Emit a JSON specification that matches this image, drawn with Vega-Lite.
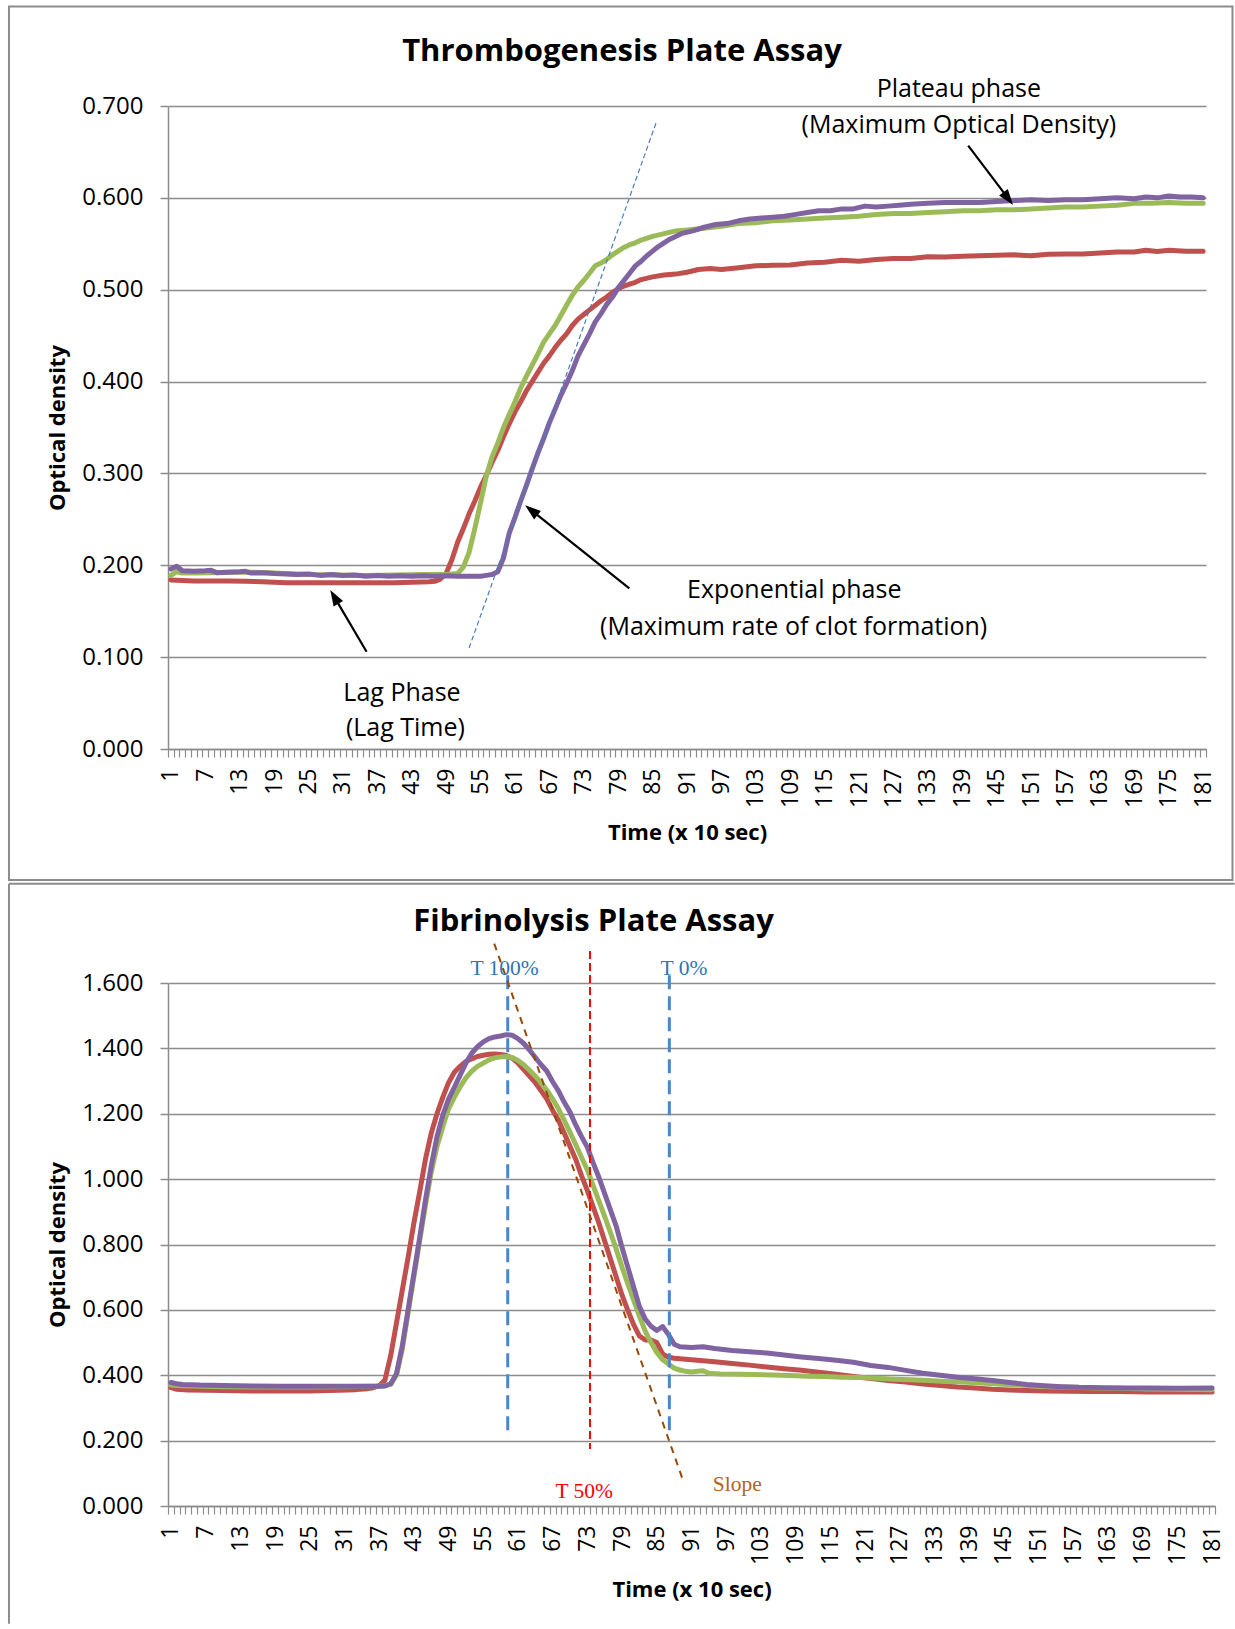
{
"$schema": "https://vega.github.io/schema/vega-lite/v6.json",
"background": "white",
"padding": {"left": 7, "top": 5, "right": 0, "bottom": 0},
"bounds": "flush",
"spacing": 234,
"config": {"font": "Open Sans", "view": {"stroke": null}, "axis": {"labelColor": "black", "titleColor": "black", "labelFont": "Open Sans", "titleFont": "Open Sans"}},
"datasets": {
"thrombo": [
{"s":"S2","t":1,"v":0.184},{"s":"S2","t":3,"v":0.1835},{"s":"S2","t":5,"v":0.183},{"s":"S2","t":8,"v":0.183},{"s":"S2","t":11,"v":0.183},{"s":"S2","t":14,"v":0.1826},{"s":"S2","t":17,"v":0.182},{"s":"S2","t":19,"v":0.1815},{"s":"S2","t":21,"v":0.181},{"s":"S2","t":25,"v":0.181},{"s":"S2","t":29,"v":0.181},{"s":"S2","t":33,"v":0.181},{"s":"S2","t":37,"v":0.181},{"s":"S2","t":40,"v":0.181},{"s":"S2","t":43,"v":0.1815},{"s":"S2","t":46,"v":0.182},{"s":"S2","t":47,"v":0.1825},{"s":"S2","t":48,"v":0.185},{"s":"S2","t":49,"v":0.191},{"s":"S2","t":50,"v":0.206},{"s":"S2","t":51,"v":0.225},{"s":"S2","t":52,"v":0.24},{"s":"S2","t":53,"v":0.256},{"s":"S2","t":54,"v":0.27},{"s":"S2","t":55,"v":0.285},{"s":"S2","t":56,"v":0.298},{"s":"S2","t":57,"v":0.312},{"s":"S2","t":58,"v":0.325},{"s":"S2","t":59,"v":0.34},{"s":"S2","t":60,"v":0.354},{"s":"S2","t":61,"v":0.367},{"s":"S2","t":62,"v":0.378},{"s":"S2","t":63,"v":0.39},{"s":"S2","t":64,"v":0.4},{"s":"S2","t":65,"v":0.41},{"s":"S2","t":66,"v":0.42},{"s":"S2","t":67,"v":0.428},{"s":"S2","t":68,"v":0.437},{"s":"S2","t":69,"v":0.445},{"s":"S2","t":70,"v":0.452},{"s":"S2","t":71,"v":0.461},{"s":"S2","t":72,"v":0.468},{"s":"S2","t":73,"v":0.473},{"s":"S2","t":74,"v":0.478},{"s":"S2","t":75,"v":0.483},{"s":"S2","t":76,"v":0.488},{"s":"S2","t":77,"v":0.492},{"s":"S2","t":78,"v":0.497},{"s":"S2","t":79,"v":0.501},{"s":"S2","t":80,"v":0.504},{"s":"S2","t":81,"v":0.506},{"s":"S2","t":82,"v":0.508},{"s":"S2","t":83,"v":0.511},{"s":"S2","t":85,"v":0.514},{"s":"S2","t":87,"v":0.516},{"s":"S2","t":89,"v":0.517},{"s":"S2","t":91,"v":0.519},{"s":"S2","t":93,"v":0.522},{"s":"S2","t":95,"v":0.523},{"s":"S2","t":97,"v":0.522},{"s":"S2","t":100,"v":0.524},{"s":"S2","t":103,"v":0.526},{"s":"S2","t":106,"v":0.5265},{"s":"S2","t":109,"v":0.527},{"s":"S2","t":112,"v":0.529},{"s":"S2","t":115,"v":0.53},{"s":"S2","t":118,"v":0.532},{"s":"S2","t":121,"v":0.531},{"s":"S2","t":124,"v":0.533},{"s":"S2","t":127,"v":0.534},{"s":"S2","t":130,"v":0.534},{"s":"S2","t":133,"v":0.536},{"s":"S2","t":136,"v":0.5355},{"s":"S2","t":139,"v":0.5365},{"s":"S2","t":142,"v":0.537},{"s":"S2","t":145,"v":0.5375},{"s":"S2","t":148,"v":0.538},{"s":"S2","t":151,"v":0.537},{"s":"S2","t":154,"v":0.5385},{"s":"S2","t":157,"v":0.539},{"s":"S2","t":160,"v":0.539},{"s":"S2","t":163,"v":0.54},{"s":"S2","t":166,"v":0.541},{"s":"S2","t":169,"v":0.541},{"s":"S2","t":171,"v":0.543},{"s":"S2","t":173,"v":0.5415},{"s":"S2","t":175,"v":0.543},{"s":"S2","t":178,"v":0.542},{"s":"S2","t":181,"v":0.542},
{"s":"S3","t":1,"v":0.189},{"s":"S3","t":2,"v":0.193},{"s":"S3","t":3,"v":0.1915},{"s":"S3","t":5,"v":0.1915},{"s":"S3","t":8,"v":0.192},{"s":"S3","t":11,"v":0.1925},{"s":"S3","t":15,"v":0.1925},{"s":"S3","t":18,"v":0.192},{"s":"S3","t":21,"v":0.191},{"s":"S3","t":25,"v":0.19},{"s":"S3","t":30,"v":0.1895},{"s":"S3","t":35,"v":0.189},{"s":"S3","t":40,"v":0.1895},{"s":"S3","t":45,"v":0.19},{"s":"S3","t":49,"v":0.19},{"s":"S3","t":51,"v":0.191},{"s":"S3","t":52,"v":0.198},{"s":"S3","t":53,"v":0.214},{"s":"S3","t":54,"v":0.24},{"s":"S3","t":55,"v":0.268},{"s":"S3","t":56,"v":0.297},{"s":"S3","t":57,"v":0.318},{"s":"S3","t":58,"v":0.333},{"s":"S3","t":59,"v":0.35},{"s":"S3","t":60,"v":0.364},{"s":"S3","t":61,"v":0.378},{"s":"S3","t":62,"v":0.393},{"s":"S3","t":63,"v":0.406},{"s":"S3","t":64,"v":0.418},{"s":"S3","t":65,"v":0.43},{"s":"S3","t":66,"v":0.443},{"s":"S3","t":67,"v":0.452},{"s":"S3","t":68,"v":0.461},{"s":"S3","t":69,"v":0.472},{"s":"S3","t":70,"v":0.483},{"s":"S3","t":71,"v":0.494},{"s":"S3","t":72,"v":0.503},{"s":"S3","t":73,"v":0.51},{"s":"S3","t":74,"v":0.518},{"s":"S3","t":75,"v":0.526},{"s":"S3","t":76,"v":0.529},{"s":"S3","t":77,"v":0.533},{"s":"S3","t":78,"v":0.538},{"s":"S3","t":79,"v":0.542},{"s":"S3","t":80,"v":0.546},{"s":"S3","t":81,"v":0.549},{"s":"S3","t":82,"v":0.551},{"s":"S3","t":83,"v":0.554},{"s":"S3","t":85,"v":0.558},{"s":"S3","t":87,"v":0.561},{"s":"S3","t":89,"v":0.564},{"s":"S3","t":91,"v":0.565},{"s":"S3","t":94,"v":0.567},{"s":"S3","t":97,"v":0.569},{"s":"S3","t":100,"v":0.572},{"s":"S3","t":103,"v":0.573},{"s":"S3","t":106,"v":0.575},{"s":"S3","t":109,"v":0.576},{"s":"S3","t":112,"v":0.577},{"s":"S3","t":115,"v":0.578},{"s":"S3","t":118,"v":0.579},{"s":"S3","t":121,"v":0.58},{"s":"S3","t":124,"v":0.582},{"s":"S3","t":127,"v":0.583},{"s":"S3","t":130,"v":0.583},{"s":"S3","t":133,"v":0.584},{"s":"S3","t":136,"v":0.585},{"s":"S3","t":139,"v":0.586},{"s":"S3","t":142,"v":0.586},{"s":"S3","t":145,"v":0.587},{"s":"S3","t":148,"v":0.587},{"s":"S3","t":151,"v":0.588},{"s":"S3","t":154,"v":0.589},{"s":"S3","t":157,"v":0.59},{"s":"S3","t":160,"v":0.59},{"s":"S3","t":163,"v":0.591},{"s":"S3","t":166,"v":0.592},{"s":"S3","t":169,"v":0.594},{"s":"S3","t":172,"v":0.594},{"s":"S3","t":175,"v":0.595},{"s":"S3","t":178,"v":0.594},{"s":"S3","t":181,"v":0.594},
{"s":"S4","t":1,"v":0.196},{"s":"S4","t":2,"v":0.199},{"s":"S4","t":3,"v":0.194},{"s":"S4","t":5,"v":0.1935},{"s":"S4","t":7,"v":0.194},{"s":"S4","t":8,"v":0.1945},{"s":"S4","t":9,"v":0.192},{"s":"S4","t":11,"v":0.1925},{"s":"S4","t":13,"v":0.193},{"s":"S4","t":14,"v":0.1935},{"s":"S4","t":15,"v":0.1915},{"s":"S4","t":17,"v":0.192},{"s":"S4","t":19,"v":0.191},{"s":"S4","t":21,"v":0.1905},{"s":"S4","t":23,"v":0.19},{"s":"S4","t":25,"v":0.1905},{"s":"S4","t":27,"v":0.189},{"s":"S4","t":29,"v":0.19},{"s":"S4","t":31,"v":0.189},{"s":"S4","t":33,"v":0.1895},{"s":"S4","t":35,"v":0.188},{"s":"S4","t":37,"v":0.189},{"s":"S4","t":39,"v":0.188},{"s":"S4","t":41,"v":0.1885},{"s":"S4","t":43,"v":0.188},{"s":"S4","t":45,"v":0.1885},{"s":"S4","t":47,"v":0.188},{"s":"S4","t":49,"v":0.1885},{"s":"S4","t":51,"v":0.188},{"s":"S4","t":53,"v":0.188},{"s":"S4","t":55,"v":0.188},{"s":"S4","t":56,"v":0.189},{"s":"S4","t":57,"v":0.19},{"s":"S4","t":58,"v":0.193},{"s":"S4","t":59,"v":0.208},{"s":"S4","t":60,"v":0.235},{"s":"S4","t":61,"v":0.252},{"s":"S4","t":62,"v":0.27},{"s":"S4","t":63,"v":0.287},{"s":"S4","t":64,"v":0.305},{"s":"S4","t":65,"v":0.322},{"s":"S4","t":66,"v":0.338},{"s":"S4","t":67,"v":0.355},{"s":"S4","t":68,"v":0.37},{"s":"S4","t":69,"v":0.385},{"s":"S4","t":70,"v":0.398},{"s":"S4","t":71,"v":0.412},{"s":"S4","t":72,"v":0.428},{"s":"S4","t":73,"v":0.44},{"s":"S4","t":74,"v":0.452},{"s":"S4","t":75,"v":0.465},{"s":"S4","t":76,"v":0.474},{"s":"S4","t":77,"v":0.484},{"s":"S4","t":78,"v":0.492},{"s":"S4","t":79,"v":0.502},{"s":"S4","t":80,"v":0.51},{"s":"S4","t":81,"v":0.518},{"s":"S4","t":82,"v":0.526},{"s":"S4","t":83,"v":0.531},{"s":"S4","t":84,"v":0.537},{"s":"S4","t":85,"v":0.542},{"s":"S4","t":86,"v":0.547},{"s":"S4","t":87,"v":0.551},{"s":"S4","t":88,"v":0.555},{"s":"S4","t":89,"v":0.558},{"s":"S4","t":90,"v":0.561},{"s":"S4","t":92,"v":0.564},{"s":"S4","t":94,"v":0.568},{"s":"S4","t":96,"v":0.571},{"s":"S4","t":98,"v":0.572},{"s":"S4","t":100,"v":0.575},{"s":"S4","t":102,"v":0.577},{"s":"S4","t":104,"v":0.578},{"s":"S4","t":106,"v":0.579},{"s":"S4","t":108,"v":0.58},{"s":"S4","t":110,"v":0.582},{"s":"S4","t":112,"v":0.584},{"s":"S4","t":114,"v":0.586},{"s":"S4","t":116,"v":0.586},{"s":"S4","t":118,"v":0.588},{"s":"S4","t":120,"v":0.588},{"s":"S4","t":122,"v":0.591},{"s":"S4","t":124,"v":0.59},{"s":"S4","t":126,"v":0.591},{"s":"S4","t":128,"v":0.592},{"s":"S4","t":130,"v":0.593},{"s":"S4","t":133,"v":0.594},{"s":"S4","t":136,"v":0.595},{"s":"S4","t":139,"v":0.595},{"s":"S4","t":142,"v":0.595},{"s":"S4","t":145,"v":0.596},{"s":"S4","t":148,"v":0.597},{"s":"S4","t":151,"v":0.598},{"s":"S4","t":154,"v":0.597},{"s":"S4","t":157,"v":0.598},{"s":"S4","t":160,"v":0.598},{"s":"S4","t":163,"v":0.599},{"s":"S4","t":166,"v":0.6},{"s":"S4","t":169,"v":0.599},{"s":"S4","t":171,"v":0.601},{"s":"S4","t":173,"v":0.6},{"s":"S4","t":175,"v":0.602},{"s":"S4","t":177,"v":0.601},{"s":"S4","t":179,"v":0.601},{"s":"S4","t":181,"v":0.6}
],
"fibrino": [
{"s":"S2","t":1,"v":0.362},{"s":"S2","t":2,"v":0.357},{"s":"S2","t":4,"v":0.355},{"s":"S2","t":7,"v":0.354},{"s":"S2","t":10,"v":0.353},{"s":"S2","t":15,"v":0.352},{"s":"S2","t":20,"v":0.352},{"s":"S2","t":25,"v":0.352},{"s":"S2","t":30,"v":0.354},{"s":"S2","t":33,"v":0.356},{"s":"S2","t":35,"v":0.359},{"s":"S2","t":36,"v":0.362},{"s":"S2","t":37,"v":0.368},{"s":"S2","t":38,"v":0.385},{"s":"S2","t":39,"v":0.46},{"s":"S2","t":40,"v":0.56},{"s":"S2","t":41,"v":0.66},{"s":"S2","t":42,"v":0.76},{"s":"S2","t":43,"v":0.865},{"s":"S2","t":44,"v":0.96},{"s":"S2","t":45,"v":1.06},{"s":"S2","t":46,"v":1.14},{"s":"S2","t":47,"v":1.2},{"s":"S2","t":48,"v":1.25},{"s":"S2","t":49,"v":1.295},{"s":"S2","t":50,"v":1.327},{"s":"S2","t":51,"v":1.345},{"s":"S2","t":52,"v":1.36},{"s":"S2","t":53,"v":1.368},{"s":"S2","t":54,"v":1.375},{"s":"S2","t":55,"v":1.379},{"s":"S2","t":56,"v":1.382},{"s":"S2","t":57,"v":1.383},{"s":"S2","t":58,"v":1.381},{"s":"S2","t":59,"v":1.378},{"s":"S2","t":60,"v":1.37},{"s":"S2","t":61,"v":1.355},{"s":"S2","t":62,"v":1.335},{"s":"S2","t":63,"v":1.315},{"s":"S2","t":64,"v":1.295},{"s":"S2","t":65,"v":1.27},{"s":"S2","t":66,"v":1.245},{"s":"S2","t":67,"v":1.21},{"s":"S2","t":68,"v":1.18},{"s":"S2","t":69,"v":1.14},{"s":"S2","t":70,"v":1.1},{"s":"S2","t":71,"v":1.06},{"s":"S2","t":72,"v":1.01},{"s":"S2","t":73,"v":0.965},{"s":"S2","t":74,"v":0.915},{"s":"S2","t":75,"v":0.865},{"s":"S2","t":76,"v":0.81},{"s":"S2","t":77,"v":0.755},{"s":"S2","t":78,"v":0.7},{"s":"S2","t":79,"v":0.645},{"s":"S2","t":80,"v":0.598},{"s":"S2","t":81,"v":0.555},{"s":"S2","t":82,"v":0.52},{"s":"S2","t":83,"v":0.508},{"s":"S2","t":84,"v":0.508},{"s":"S2","t":85,"v":0.5},{"s":"S2","t":86,"v":0.465},{"s":"S2","t":87,"v":0.455},{"s":"S2","t":88,"v":0.452},{"s":"S2","t":90,"v":0.449},{"s":"S2","t":92,"v":0.446},{"s":"S2","t":95,"v":0.441},{"s":"S2","t":98,"v":0.436},{"s":"S2","t":101,"v":0.431},{"s":"S2","t":104,"v":0.425},{"s":"S2","t":107,"v":0.42},{"s":"S2","t":110,"v":0.415},{"s":"S2","t":113,"v":0.409},{"s":"S2","t":116,"v":0.403},{"s":"S2","t":119,"v":0.396},{"s":"S2","t":122,"v":0.39},{"s":"S2","t":125,"v":0.384},{"s":"S2","t":128,"v":0.379},{"s":"S2","t":131,"v":0.373},{"s":"S2","t":134,"v":0.369},{"s":"S2","t":137,"v":0.364},{"s":"S2","t":140,"v":0.361},{"s":"S2","t":143,"v":0.357},{"s":"S2","t":146,"v":0.355},{"s":"S2","t":149,"v":0.353},{"s":"S2","t":152,"v":0.352},{"s":"S2","t":156,"v":0.351},{"s":"S2","t":160,"v":0.35},{"s":"S2","t":165,"v":0.35},{"s":"S2","t":170,"v":0.349},{"s":"S2","t":175,"v":0.349},{"s":"S2","t":181,"v":0.349},
{"s":"S3","t":1,"v":0.37},{"s":"S3","t":3,"v":0.368},{"s":"S3","t":5,"v":0.367},{"s":"S3","t":10,"v":0.365},{"s":"S3","t":15,"v":0.364},{"s":"S3","t":20,"v":0.364},{"s":"S3","t":25,"v":0.364},{"s":"S3","t":30,"v":0.365},{"s":"S3","t":35,"v":0.366},{"s":"S3","t":37,"v":0.367},{"s":"S3","t":38,"v":0.368},{"s":"S3","t":39,"v":0.372},{"s":"S3","t":40,"v":0.4},{"s":"S3","t":41,"v":0.48},{"s":"S3","t":42,"v":0.59},{"s":"S3","t":43,"v":0.7},{"s":"S3","t":44,"v":0.81},{"s":"S3","t":45,"v":0.92},{"s":"S3","t":46,"v":1.02},{"s":"S3","t":47,"v":1.1},{"s":"S3","t":48,"v":1.16},{"s":"S3","t":49,"v":1.215},{"s":"S3","t":50,"v":1.25},{"s":"S3","t":51,"v":1.282},{"s":"S3","t":52,"v":1.31},{"s":"S3","t":53,"v":1.33},{"s":"S3","t":54,"v":1.345},{"s":"S3","t":55,"v":1.355},{"s":"S3","t":56,"v":1.365},{"s":"S3","t":57,"v":1.371},{"s":"S3","t":58,"v":1.374},{"s":"S3","t":59,"v":1.375},{"s":"S3","t":60,"v":1.372},{"s":"S3","t":61,"v":1.363},{"s":"S3","t":62,"v":1.35},{"s":"S3","t":63,"v":1.333},{"s":"S3","t":64,"v":1.315},{"s":"S3","t":65,"v":1.295},{"s":"S3","t":66,"v":1.272},{"s":"S3","t":67,"v":1.245},{"s":"S3","t":68,"v":1.215},{"s":"S3","t":69,"v":1.18},{"s":"S3","t":70,"v":1.143},{"s":"S3","t":71,"v":1.105},{"s":"S3","t":72,"v":1.066},{"s":"S3","t":73,"v":1.028},{"s":"S3","t":74,"v":0.98},{"s":"S3","t":75,"v":0.933},{"s":"S3","t":76,"v":0.885},{"s":"S3","t":77,"v":0.836},{"s":"S3","t":78,"v":0.785},{"s":"S3","t":79,"v":0.73},{"s":"S3","t":80,"v":0.679},{"s":"S3","t":81,"v":0.63},{"s":"S3","t":82,"v":0.58},{"s":"S3","t":83,"v":0.535},{"s":"S3","t":84,"v":0.5},{"s":"S3","t":85,"v":0.47},{"s":"S3","t":86,"v":0.448},{"s":"S3","t":87,"v":0.434},{"s":"S3","t":88,"v":0.422},{"s":"S3","t":89,"v":0.416},{"s":"S3","t":90,"v":0.412},{"s":"S3","t":91,"v":0.41},{"s":"S3","t":92,"v":0.412},{"s":"S3","t":93,"v":0.414},{"s":"S3","t":94,"v":0.406},{"s":"S3","t":96,"v":0.404},{"s":"S3","t":99,"v":0.403},{"s":"S3","t":102,"v":0.402},{"s":"S3","t":105,"v":0.401},{"s":"S3","t":108,"v":0.399},{"s":"S3","t":111,"v":0.397},{"s":"S3","t":114,"v":0.396},{"s":"S3","t":117,"v":0.394},{"s":"S3","t":120,"v":0.393},{"s":"S3","t":123,"v":0.391},{"s":"S3","t":126,"v":0.388},{"s":"S3","t":129,"v":0.386},{"s":"S3","t":132,"v":0.384},{"s":"S3","t":135,"v":0.381},{"s":"S3","t":138,"v":0.379},{"s":"S3","t":141,"v":0.376},{"s":"S3","t":144,"v":0.373},{"s":"S3","t":147,"v":0.37},{"s":"S3","t":150,"v":0.368},{"s":"S3","t":153,"v":0.365},{"s":"S3","t":157,"v":0.363},{"s":"S3","t":161,"v":0.361},{"s":"S3","t":165,"v":0.36},{"s":"S3","t":170,"v":0.358},{"s":"S3","t":175,"v":0.357},{"s":"S3","t":181,"v":0.356},
{"s":"S4","t":1,"v":0.378},{"s":"S4","t":2,"v":0.374},{"s":"S4","t":3,"v":0.372},{"s":"S4","t":6,"v":0.37},{"s":"S4","t":10,"v":0.369},{"s":"S4","t":15,"v":0.367},{"s":"S4","t":20,"v":0.366},{"s":"S4","t":25,"v":0.366},{"s":"S4","t":30,"v":0.366},{"s":"S4","t":35,"v":0.366},{"s":"S4","t":37,"v":0.366},{"s":"S4","t":38,"v":0.367},{"s":"S4","t":39,"v":0.374},{"s":"S4","t":40,"v":0.405},{"s":"S4","t":41,"v":0.49},{"s":"S4","t":42,"v":0.6},{"s":"S4","t":43,"v":0.71},{"s":"S4","t":44,"v":0.82},{"s":"S4","t":45,"v":0.935},{"s":"S4","t":46,"v":1.04},{"s":"S4","t":47,"v":1.13},{"s":"S4","t":48,"v":1.195},{"s":"S4","t":49,"v":1.245},{"s":"S4","t":50,"v":1.281},{"s":"S4","t":51,"v":1.318},{"s":"S4","t":52,"v":1.355},{"s":"S4","t":53,"v":1.385},{"s":"S4","t":54,"v":1.405},{"s":"S4","t":55,"v":1.42},{"s":"S4","t":56,"v":1.43},{"s":"S4","t":57,"v":1.435},{"s":"S4","t":58,"v":1.438},{"s":"S4","t":59,"v":1.442},{"s":"S4","t":60,"v":1.44},{"s":"S4","t":61,"v":1.43},{"s":"S4","t":62,"v":1.415},{"s":"S4","t":63,"v":1.395},{"s":"S4","t":64,"v":1.372},{"s":"S4","t":65,"v":1.35},{"s":"S4","t":66,"v":1.33},{"s":"S4","t":67,"v":1.298},{"s":"S4","t":68,"v":1.27},{"s":"S4","t":69,"v":1.235},{"s":"S4","t":70,"v":1.205},{"s":"S4","t":71,"v":1.165},{"s":"S4","t":72,"v":1.13},{"s":"S4","t":73,"v":1.097},{"s":"S4","t":74,"v":1.05},{"s":"S4","t":75,"v":1.005},{"s":"S4","t":76,"v":0.955},{"s":"S4","t":77,"v":0.905},{"s":"S4","t":78,"v":0.855},{"s":"S4","t":79,"v":0.79},{"s":"S4","t":80,"v":0.73},{"s":"S4","t":81,"v":0.67},{"s":"S4","t":82,"v":0.61},{"s":"S4","t":83,"v":0.572},{"s":"S4","t":84,"v":0.55},{"s":"S4","t":85,"v":0.537},{"s":"S4","t":86,"v":0.549},{"s":"S4","t":87,"v":0.525},{"s":"S4","t":88,"v":0.495},{"s":"S4","t":89,"v":0.487},{"s":"S4","t":91,"v":0.485},{"s":"S4","t":93,"v":0.487},{"s":"S4","t":95,"v":0.482},{"s":"S4","t":98,"v":0.476},{"s":"S4","t":101,"v":0.472},{"s":"S4","t":104,"v":0.468},{"s":"S4","t":107,"v":0.462},{"s":"S4","t":110,"v":0.456},{"s":"S4","t":113,"v":0.451},{"s":"S4","t":116,"v":0.446},{"s":"S4","t":119,"v":0.44},{"s":"S4","t":122,"v":0.43},{"s":"S4","t":125,"v":0.424},{"s":"S4","t":128,"v":0.415},{"s":"S4","t":131,"v":0.406},{"s":"S4","t":134,"v":0.4},{"s":"S4","t":137,"v":0.394},{"s":"S4","t":140,"v":0.389},{"s":"S4","t":143,"v":0.384},{"s":"S4","t":146,"v":0.378},{"s":"S4","t":149,"v":0.372},{"s":"S4","t":152,"v":0.368},{"s":"S4","t":155,"v":0.365},{"s":"S4","t":158,"v":0.363},{"s":"S4","t":162,"v":0.362},{"s":"S4","t":166,"v":0.361},{"s":"S4","t":170,"v":0.361},{"s":"S4","t":175,"v":0.36},{"s":"S4","t":181,"v":0.361}
],
"topText": [
{"x":138.4,"y":0.7185,"label":"Plateau phase"},
{"x":138.4,"y":0.6793,"label":"(Maximum Optical Density)"},
{"x":109.7,"y":0.1731,"label":"Exponential phase"},
{"x":109.6,"y":0.1332,"label":"(Maximum rate of clot formation)"},
{"x":41.3,"y":0.0615,"label":"Lag Phase"},
{"x":41.9,"y":0.0225,"label":"(Lag Time)"}
],
"topArrows": [
{"x":140.03,"y":0.6568,"hx":146.9,"hy":0.6002,"dir":142.8},
{"x":80.94,"y":0.1749,"hx":64.0,"hy":0.2592,"dir":308.5},
{"x":35.13,"y":0.1059,"hx":29.6,"hy":0.1645,"dir":329.5}
],
"tangent": [{"x":53.0,"y":0.11,"x2":85.6,"y2":0.6815}],
"blueLines": [{"x":59.23,"y":1.6236,"y2":0.2263},{"x":87.17,"y":1.6236,"y2":0.2263}],
"redLine": [{"x":73.45,"y":1.698,"y2":0.174}],
"slope": [{"x":56.9,"y":1.7205,"x2":89.41,"y2":0.0847}],
"botText": [
{"x":58.69,"y":1.644,"label":"T 100%","kind":"b"},
{"x":89.7,"y":1.644,"label":"T 0%","kind":"b"},
{"x":72.45,"y":0.0437,"label":"T 50%","kind":"r"},
{"x":98.9,"y":0.0642,"label":"Slope","kind":"s"}
]
},
"vconcat": [
{
"width": 1038, "height": 643,
"title": {"text": "Thrombogenesis Plate Assay", "fontSize": 31, "fontWeight": "bold", "font": "Open Sans", "color": "black", "anchor": "middle", "frame": "group", "offset": 0, "dx": -65, "dy": 62},
"resolve": {"axis": {"x": "independent"}},
"layer": [
{
"data": {"values": [{}]},
"mark": {"type": "rect", "fill": "white", "fillOpacity": 0, "stroke": "#8c8c8c", "strokeWidth": 2},
"encoding": {
"x": {"datum": -27.23, "type": "quantitative", "scale": {"domain": [0.5, 181.5], "nice": false, "zero": false},
"axis": {"orient": "bottom", "values": [0.5,1.5,2.5,3.5,4.5,5.5,6.5,7.5,8.5,9.5,10.5,11.5,12.5,13.5,14.5,15.5,16.5,17.5,18.5,19.5,20.5,21.5,22.5,23.5,24.5,25.5,26.5,27.5,28.5,29.5,30.5,31.5,32.5,33.5,34.5,35.5,36.5,37.5,38.5,39.5,40.5,41.5,42.5,43.5,44.5,45.5,46.5,47.5,48.5,49.5,50.5,51.5,52.5,53.5,54.5,55.5,56.5,57.5,58.5,59.5,60.5,61.5,62.5,63.5,64.5,65.5,66.5,67.5,68.5,69.5,70.5,71.5,72.5,73.5,74.5,75.5,76.5,77.5,78.5,79.5,80.5,81.5,82.5,83.5,84.5,85.5,86.5,87.5,88.5,89.5,90.5,91.5,92.5,93.5,94.5,95.5,96.5,97.5,98.5,99.5,100.5,101.5,102.5,103.5,104.5,105.5,106.5,107.5,108.5,109.5,110.5,111.5,112.5,113.5,114.5,115.5,116.5,117.5,118.5,119.5,120.5,121.5,122.5,123.5,124.5,125.5,126.5,127.5,128.5,129.5,130.5,131.5,132.5,133.5,134.5,135.5,136.5,137.5,138.5,139.5,140.5,141.5,142.5,143.5,144.5,145.5,146.5,147.5,148.5,149.5,150.5,151.5,152.5,153.5,154.5,155.5,156.5,157.5,158.5,159.5,160.5,161.5,162.5,163.5,164.5,165.5,166.5,167.5,168.5,169.5,170.5,171.5,172.5,173.5,174.5,175.5,176.5,177.5,178.5,179.5,180.5,181.5], "labels": false, "ticks": true, "tickSize": 8, "tickColor": "#8c8c8c", "tickWidth": 1.2, "domain": false, "grid": false, "title": null}},
"x2": {"datum": 186.12},
"y": {"datum": 0.8083, "type": "quantitative", "scale": {"domain": [0, 0.7], "nice": false, "zero": false},
"axis": {"values": [0,0.1,0.2,0.3,0.4,0.5,0.6,0.7], "format": ".3f", "grid": true, "gridColor": "#8c8c8c", "gridWidth": 1.5, "domain": true, "domainColor": "#8c8c8c", "domainWidth": 1.5, "ticks": true, "tickSize": 8, "tickColor": "#8c8c8c", "tickWidth": 1.5, "labelFontSize": 24, "labelPadding": 17, "labelFlush": false, "title": "Optical density", "titleFontSize": 22, "titleFontWeight": "bold", "titlePadding": 12}},
"y2": {"datum": -0.1426}
}
},
{
"data": {"name": "thrombo"},
"mark": {"type": "line", "strokeWidth": 5, "strokeJoin": "round", "strokeCap": "round"},
"encoding": {
"x": {"field": "t", "type": "quantitative", "scale": {"domain": [0.5, 181.5], "nice": false, "zero": false},
"axis": {"orient": "bottom", "values": [1,7,13,19,25,31,37,43,49,55,61,67,73,79,85,91,97,103,109,115,121,127,133,139,145,151,157,163,169,175,181], "ticks": false, "grid": false, "domain": true, "domainColor": "#8c8c8c", "domainWidth": 1.5, "labelAngle": -90, "labelPadding": 19, "labelFontSize": 23, "labelFlush": false, "labelOverlap": false, "title": "Time (x 10 sec)", "titleFontSize": 22, "titleFontWeight": "bold", "titlePadding": 15}},
"y": {"field": "v", "type": "quantitative", "scale": {"domain": [0, 0.7], "nice": false, "zero": false},
"axis": {"values": [0,0.1,0.2,0.3,0.4,0.5,0.6,0.7], "format": ".3f", "grid": true, "gridColor": "#8c8c8c", "gridWidth": 1.5, "domain": true, "domainColor": "#8c8c8c", "domainWidth": 1.5, "ticks": true, "tickSize": 8, "tickColor": "#8c8c8c", "tickWidth": 1.5, "labelFontSize": 24, "labelPadding": 17, "labelFlush": false, "title": "Optical density", "titleFontSize": 22, "titleFontWeight": "bold", "titlePadding": 12}},
"color": {"field": "s", "type": "nominal", "scale": {"domain": ["S2","S3","S4"], "range": ["#C0504D","#9BBB59","#8064A2"]}, "legend": null}
}
},
{
"data": {"name": "tangent"},
"mark": {"type": "rule", "color": "#4a7ebb", "strokeWidth": 1.2, "strokeDash": [5, 3]},
"encoding": {
"x": {"field": "x", "type": "quantitative", "scale": {"domain": [0.5, 181.5], "nice": false, "zero": false}, "axis": null},
"x2": {"field": "x2"},
"y": {"field": "y", "type": "quantitative", "scale": {"domain": [0, 0.7], "nice": false, "zero": false},
"axis": {"values": [0,0.1,0.2,0.3,0.4,0.5,0.6,0.7], "format": ".3f", "grid": true, "gridColor": "#8c8c8c", "gridWidth": 1.5, "domain": true, "domainColor": "#8c8c8c", "domainWidth": 1.5, "ticks": true, "tickSize": 8, "tickColor": "#8c8c8c", "tickWidth": 1.5, "labelFontSize": 24, "labelPadding": 17, "labelFlush": false, "title": "Optical density", "titleFontSize": 22, "titleFontWeight": "bold", "titlePadding": 12}},
"y2": {"field": "y2"}
}
},
{
"data": {"name": "topArrows"},
"mark": {"type": "rule", "color": "black", "strokeWidth": 2.2},
"encoding": {
"x": {"field": "x", "type": "quantitative", "scale": {"domain": [0.5, 181.5], "nice": false, "zero": false}, "axis": null},
"x2": {"field": "hx"},
"y": {"field": "y", "type": "quantitative", "scale": {"domain": [0, 0.7], "nice": false, "zero": false},
"axis": {"values": [0,0.1,0.2,0.3,0.4,0.5,0.6,0.7], "format": ".3f", "grid": true, "gridColor": "#8c8c8c", "gridWidth": 1.5, "domain": true, "domainColor": "#8c8c8c", "domainWidth": 1.5, "ticks": true, "tickSize": 8, "tickColor": "#8c8c8c", "tickWidth": 1.5, "labelFontSize": 24, "labelPadding": 17, "labelFlush": false, "title": "Optical density", "titleFontSize": 22, "titleFontWeight": "bold", "titlePadding": 12}},
"y2": {"field": "hy"}
}
},
{
"data": {"name": "topArrows"},
"mark": {"type": "point", "shape": "M0,-1L0.6,0.75L-0.6,0.75Z", "filled": true, "color": "black", "opacity": 1, "size": 330},
"encoding": {
"x": {"field": "hx", "type": "quantitative", "scale": {"domain": [0.5, 181.5], "nice": false, "zero": false}, "axis": null},
"y": {"field": "hy", "type": "quantitative", "scale": {"domain": [0, 0.7], "nice": false, "zero": false},
"axis": {"values": [0,0.1,0.2,0.3,0.4,0.5,0.6,0.7], "format": ".3f", "grid": true, "gridColor": "#8c8c8c", "gridWidth": 1.5, "domain": true, "domainColor": "#8c8c8c", "domainWidth": 1.5, "ticks": true, "tickSize": 8, "tickColor": "#8c8c8c", "tickWidth": 1.5, "labelFontSize": 24, "labelPadding": 17, "labelFlush": false, "title": "Optical density", "titleFontSize": 22, "titleFontWeight": "bold", "titlePadding": 12}},
"angle": {"field": "dir", "type": "quantitative", "scale": {"domain": [0, 360], "range": [0, 360]}}
}
},
{
"data": {"name": "topText"},
"mark": {"type": "text", "font": "Open Sans", "fontSize": 25, "color": "black", "align": "center", "baseline": "middle"},
"encoding": {
"x": {"field": "x", "type": "quantitative", "scale": {"domain": [0.5, 181.5], "nice": false, "zero": false}, "axis": null},
"y": {"field": "y", "type": "quantitative", "scale": {"domain": [0, 0.7], "nice": false, "zero": false},
"axis": {"values": [0,0.1,0.2,0.3,0.4,0.5,0.6,0.7], "format": ".3f", "grid": true, "gridColor": "#8c8c8c", "gridWidth": 1.5, "domain": true, "domainColor": "#8c8c8c", "domainWidth": 1.5, "ticks": true, "tickSize": 8, "tickColor": "#8c8c8c", "tickWidth": 1.5, "labelFontSize": 24, "labelPadding": 17, "labelFlush": false, "title": "Optical density", "titleFontSize": 22, "titleFontWeight": "bold", "titlePadding": 12}},
"text": {"field": "label"}
}
}
]
},
{
"width": 1047, "height": 523,
"title": {"text": "Fibrinolysis Plate Assay", "fontSize": 31, "fontWeight": "bold", "font": "Open Sans", "color": "black", "anchor": "middle", "frame": "group", "offset": 0, "dx": -98, "dy": 55},
"resolve": {"axis": {"x": "independent"}},
"layer": [
{
"data": {"values": [{}]},
"mark": {"type": "rule", "color": "#8c8c8c", "strokeWidth": 2},
"encoding": {
"x": {"datum": -26.99, "type": "quantitative", "scale": {"domain": [0.5, 181.5], "nice": false, "zero": false},
"axis": {"orient": "bottom", "values": [0.5,1.5,2.5,3.5,4.5,5.5,6.5,7.5,8.5,9.5,10.5,11.5,12.5,13.5,14.5,15.5,16.5,17.5,18.5,19.5,20.5,21.5,22.5,23.5,24.5,25.5,26.5,27.5,28.5,29.5,30.5,31.5,32.5,33.5,34.5,35.5,36.5,37.5,38.5,39.5,40.5,41.5,42.5,43.5,44.5,45.5,46.5,47.5,48.5,49.5,50.5,51.5,52.5,53.5,54.5,55.5,56.5,57.5,58.5,59.5,60.5,61.5,62.5,63.5,64.5,65.5,66.5,67.5,68.5,69.5,70.5,71.5,72.5,73.5,74.5,75.5,76.5,77.5,78.5,79.5,80.5,81.5,82.5,83.5,84.5,85.5,86.5,87.5,88.5,89.5,90.5,91.5,92.5,93.5,94.5,95.5,96.5,97.5,98.5,99.5,100.5,101.5,102.5,103.5,104.5,105.5,106.5,107.5,108.5,109.5,110.5,111.5,112.5,113.5,114.5,115.5,116.5,117.5,118.5,119.5,120.5,121.5,122.5,123.5,124.5,125.5,126.5,127.5,128.5,129.5,130.5,131.5,132.5,133.5,134.5,135.5,136.5,137.5,138.5,139.5,140.5,141.5,142.5,143.5,144.5,145.5,146.5,147.5,148.5,149.5,150.5,151.5,152.5,153.5,154.5,155.5,156.5,157.5,158.5,159.5,160.5,161.5,162.5,163.5,164.5,165.5,166.5,167.5,168.5,169.5,170.5,171.5,172.5,173.5,174.5,175.5,176.5,177.5,178.5,179.5,180.5,181.5], "labels": false, "ticks": true, "tickSize": 8, "tickColor": "#8c8c8c", "tickWidth": 1.2, "domain": false, "grid": false, "title": null}},
"y": {"datum": 1.904, "type": "quantitative", "scale": {"domain": [0, 1.6], "nice": false, "zero": false},
"axis": {"values": [0,0.2,0.4,0.6,0.8,1.0,1.2,1.4,1.6], "format": ".3f", "grid": true, "gridColor": "#8c8c8c", "gridWidth": 1.5, "domain": true, "domainColor": "#8c8c8c", "domainWidth": 1.5, "ticks": true, "tickSize": 8, "tickColor": "#8c8c8c", "tickWidth": 1.5, "labelFontSize": 24, "labelPadding": 17, "labelFlush": false, "title": "Optical density", "titleFontSize": 22, "titleFontWeight": "bold", "titlePadding": 12}},
"y2": {"datum": -0.36}
}
},
{
"data": {"values": [{}]},
"mark": {"type": "rule", "color": "#8c8c8c", "strokeWidth": 2},
"encoding": {
"x": {"datum": -26.99, "type": "quantitative", "scale": {"domain": [0.5, 181.5], "nice": false, "zero": false}, "axis": null},
"x2": {"datum": 184.9},
"y": {"datum": 1.904, "type": "quantitative", "scale": {"domain": [0, 1.6], "nice": false, "zero": false},
"axis": {"values": [0,0.2,0.4,0.6,0.8,1.0,1.2,1.4,1.6], "format": ".3f", "grid": true, "gridColor": "#8c8c8c", "gridWidth": 1.5, "domain": true, "domainColor": "#8c8c8c", "domainWidth": 1.5, "ticks": true, "tickSize": 8, "tickColor": "#8c8c8c", "tickWidth": 1.5, "labelFontSize": 24, "labelPadding": 17, "labelFlush": false, "title": "Optical density", "titleFontSize": 22, "titleFontWeight": "bold", "titlePadding": 12}}
}
},
{
"data": {"name": "fibrino"},
"mark": {"type": "line", "strokeWidth": 5, "strokeJoin": "round", "strokeCap": "round"},
"encoding": {
"x": {"field": "t", "type": "quantitative", "scale": {"domain": [0.5, 181.5], "nice": false, "zero": false},
"axis": {"orient": "bottom", "values": [1,7,13,19,25,31,37,43,49,55,61,67,73,79,85,91,97,103,109,115,121,127,133,139,145,151,157,163,169,175,181], "ticks": false, "grid": false, "domain": true, "domainColor": "#8c8c8c", "domainWidth": 1.5, "labelAngle": -90, "labelPadding": 19, "labelFontSize": 23, "labelFlush": false, "labelOverlap": false, "title": "Time (x 10 sec)", "titleFontSize": 22, "titleFontWeight": "bold", "titlePadding": 15}},
"y": {"field": "v", "type": "quantitative", "scale": {"domain": [0, 1.6], "nice": false, "zero": false},
"axis": {"values": [0,0.2,0.4,0.6,0.8,1.0,1.2,1.4,1.6], "format": ".3f", "grid": true, "gridColor": "#8c8c8c", "gridWidth": 1.5, "domain": true, "domainColor": "#8c8c8c", "domainWidth": 1.5, "ticks": true, "tickSize": 8, "tickColor": "#8c8c8c", "tickWidth": 1.5, "labelFontSize": 24, "labelPadding": 17, "labelFlush": false, "title": "Optical density", "titleFontSize": 22, "titleFontWeight": "bold", "titlePadding": 12}},
"color": {"field": "s", "type": "nominal", "scale": {"domain": ["S2","S3","S4"], "range": ["#C0504D","#9BBB59","#8064A2"]}, "legend": null}
}
},
{
"data": {"name": "blueLines"},
"mark": {"type": "rule", "color": "#4a86c8", "strokeWidth": 3, "strokeDash": [14, 7]},
"encoding": {
"x": {"field": "x", "type": "quantitative", "scale": {"domain": [0.5, 181.5], "nice": false, "zero": false}, "axis": null},
"y": {"field": "y", "type": "quantitative", "scale": {"domain": [0, 1.6], "nice": false, "zero": false},
"axis": {"values": [0,0.2,0.4,0.6,0.8,1.0,1.2,1.4,1.6], "format": ".3f", "grid": true, "gridColor": "#8c8c8c", "gridWidth": 1.5, "domain": true, "domainColor": "#8c8c8c", "domainWidth": 1.5, "ticks": true, "tickSize": 8, "tickColor": "#8c8c8c", "tickWidth": 1.5, "labelFontSize": 24, "labelPadding": 17, "labelFlush": false, "title": "Optical density", "titleFontSize": 22, "titleFontWeight": "bold", "titlePadding": 12}},
"y2": {"field": "y2"}
}
},
{
"data": {"name": "redLine"},
"mark": {"type": "rule", "color": "#ff0000", "strokeWidth": 2, "strokeDash": [8, 4]},
"encoding": {
"x": {"field": "x", "type": "quantitative", "scale": {"domain": [0.5, 181.5], "nice": false, "zero": false}, "axis": null},
"y": {"field": "y", "type": "quantitative", "scale": {"domain": [0, 1.6], "nice": false, "zero": false},
"axis": {"values": [0,0.2,0.4,0.6,0.8,1.0,1.2,1.4,1.6], "format": ".3f", "grid": true, "gridColor": "#8c8c8c", "gridWidth": 1.5, "domain": true, "domainColor": "#8c8c8c", "domainWidth": 1.5, "ticks": true, "tickSize": 8, "tickColor": "#8c8c8c", "tickWidth": 1.5, "labelFontSize": 24, "labelPadding": 17, "labelFlush": false, "title": "Optical density", "titleFontSize": 22, "titleFontWeight": "bold", "titlePadding": 12}},
"y2": {"field": "y2"}
}
},
{
"data": {"name": "slope"},
"mark": {"type": "rule", "color": "#984807", "strokeWidth": 2, "strokeDash": [7, 6]},
"encoding": {
"x": {"field": "x", "type": "quantitative", "scale": {"domain": [0.5, 181.5], "nice": false, "zero": false}, "axis": null},
"x2": {"field": "x2"},
"y": {"field": "y", "type": "quantitative", "scale": {"domain": [0, 1.6], "nice": false, "zero": false},
"axis": {"values": [0,0.2,0.4,0.6,0.8,1.0,1.2,1.4,1.6], "format": ".3f", "grid": true, "gridColor": "#8c8c8c", "gridWidth": 1.5, "domain": true, "domainColor": "#8c8c8c", "domainWidth": 1.5, "ticks": true, "tickSize": 8, "tickColor": "#8c8c8c", "tickWidth": 1.5, "labelFontSize": 24, "labelPadding": 17, "labelFlush": false, "title": "Optical density", "titleFontSize": 22, "titleFontWeight": "bold", "titlePadding": 12}},
"y2": {"field": "y2"}
}
},
{
"data": {"name": "botText"},
"transform": [{"filter": "datum.kind === 'b'"}],
"mark": {"type": "text", "font": "Liberation Serif", "fontSize": 21.5, "align": "center", "baseline": "middle", "color": "#2e75b6"},
"encoding": {
"x": {"field": "x", "type": "quantitative", "scale": {"domain": [0.5, 181.5], "nice": false, "zero": false}, "axis": null},
"y": {"field": "y", "type": "quantitative", "scale": {"domain": [0, 1.6], "nice": false, "zero": false},
"axis": {"values": [0,0.2,0.4,0.6,0.8,1.0,1.2,1.4,1.6], "format": ".3f", "grid": true, "gridColor": "#8c8c8c", "gridWidth": 1.5, "domain": true, "domainColor": "#8c8c8c", "domainWidth": 1.5, "ticks": true, "tickSize": 8, "tickColor": "#8c8c8c", "tickWidth": 1.5, "labelFontSize": 24, "labelPadding": 17, "labelFlush": false, "title": "Optical density", "titleFontSize": 22, "titleFontWeight": "bold", "titlePadding": 12}},
"text": {"field": "label"}
}
},
{
"data": {"name": "botText"},
"transform": [{"filter": "datum.kind === 'r'"}],
"mark": {"type": "text", "font": "Liberation Serif", "fontSize": 21.5, "align": "center", "baseline": "middle", "color": "#ff0000"},
"encoding": {
"x": {"field": "x", "type": "quantitative", "scale": {"domain": [0.5, 181.5], "nice": false, "zero": false}, "axis": null},
"y": {"field": "y", "type": "quantitative", "scale": {"domain": [0, 1.6], "nice": false, "zero": false},
"axis": {"values": [0,0.2,0.4,0.6,0.8,1.0,1.2,1.4,1.6], "format": ".3f", "grid": true, "gridColor": "#8c8c8c", "gridWidth": 1.5, "domain": true, "domainColor": "#8c8c8c", "domainWidth": 1.5, "ticks": true, "tickSize": 8, "tickColor": "#8c8c8c", "tickWidth": 1.5, "labelFontSize": 24, "labelPadding": 17, "labelFlush": false, "title": "Optical density", "titleFontSize": 22, "titleFontWeight": "bold", "titlePadding": 12}},
"text": {"field": "label"}
}
},
{
"data": {"name": "botText"},
"transform": [{"filter": "datum.kind === 's'"}],
"mark": {"type": "text", "font": "Liberation Serif", "fontSize": 21.5, "align": "center", "baseline": "middle", "color": "#b3631f"},
"encoding": {
"x": {"field": "x", "type": "quantitative", "scale": {"domain": [0.5, 181.5], "nice": false, "zero": false}, "axis": null},
"y": {"field": "y", "type": "quantitative", "scale": {"domain": [0, 1.6], "nice": false, "zero": false},
"axis": {"values": [0,0.2,0.4,0.6,0.8,1.0,1.2,1.4,1.6], "format": ".3f", "grid": true, "gridColor": "#8c8c8c", "gridWidth": 1.5, "domain": true, "domainColor": "#8c8c8c", "domainWidth": 1.5, "ticks": true, "tickSize": 8, "tickColor": "#8c8c8c", "tickWidth": 1.5, "labelFontSize": 24, "labelPadding": 17, "labelFlush": false, "title": "Optical density", "titleFontSize": 22, "titleFontWeight": "bold", "titlePadding": 12}},
"text": {"field": "label"}
}
}
]
}
]
}
